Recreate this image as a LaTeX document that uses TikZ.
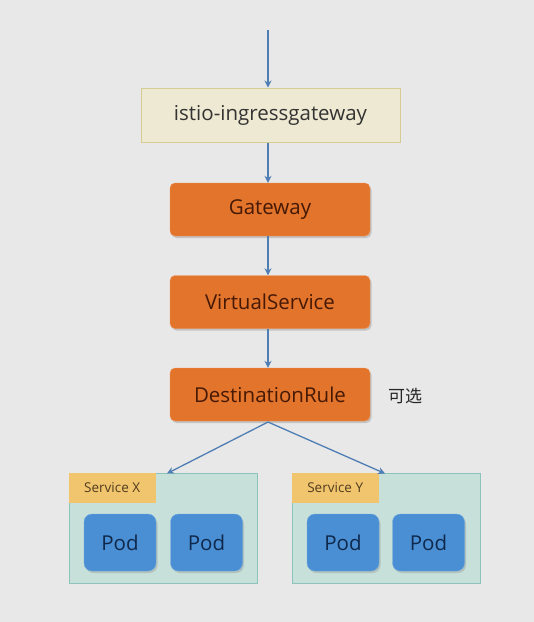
\documentclass[tikz,border=0pt]{standalone}
\usepackage{fontspec}
\setmainfont{Open Sans}
\newfontfamily\cjk{Noto Sans CJK SC}
\usetikzlibrary{arrows.meta,shadows}
\definecolor{bg}{RGB}{232,232,232}
\definecolor{beigefill}{RGB}{238,233,210}
\definecolor{beigeline}{RGB}{214,203,146}
\definecolor{orangefill}{RGB}{226,116,44}
\definecolor{orangeline}{RGB}{240,150,90}
\definecolor{orangetext}{RGB}{70,25,5}
\definecolor{arrowblue}{RGB}{79,126,180}
\definecolor{svcfill}{RGB}{200,224,218}
\definecolor{svcline}{RGB}{140,196,187}
\definecolor{labelfill}{RGB}{241,196,110}
\definecolor{labeltext}{RGB}{80,60,30}
\definecolor{podfill}{RGB}{74,143,212}
\definecolor{podtext}{RGB}{15,40,75}
\tikzset{
  x=1pt,y=-1pt,
  conn/.style={draw=arrowblue,line width=1.3pt,-{Stealth[length=7pt,width=7pt]}},
  flowbox/.style={draw=orangeline,fill=orangefill,rounded corners=5pt,minimum width=200pt,minimum height=53pt,inner sep=0pt,
    text=orangetext,font=\fontsize{20.5}{24}\selectfont,drop shadow={opacity=0.35,shadow xshift=1.5pt,shadow yshift=-2pt}},
  podbox/.style={draw=podfill!80!white,fill=podfill,rounded corners=8pt,minimum width=72pt,minimum height=57pt,inner sep=0pt,
    text=podtext,font=\fontsize{20.5}{24}\selectfont,drop shadow={opacity=0.3,shadow xshift=1.5pt,shadow yshift=-2pt}},
  svcbox/.style={draw=svcline,fill=svcfill,line width=1pt,minimum width=188pt,minimum height=110pt,inner sep=0pt},
  svclabel/.style={fill=labelfill,minimum width=87pt,minimum height=30pt,inner sep=0pt,text=labeltext,font=\fontsize{13.5}{16}\selectfont},
}
\begin{document}
\begin{tikzpicture}
\fill[bg] (0,0) rectangle (534,622);
\useasboundingbox (0,0) rectangle (534,622);
\coordinate (top) at (268,30);
\node[draw=beigeline,fill=beigefill,line width=1pt,minimum width=259pt,minimum height=54pt,inner sep=0pt,
  text=black!80,font=\fontsize{20.5}{24}\selectfont] (ingress) at (270.5,115) {istio-ingressgateway};
\node[flowbox] (gw) at (270,209.5) {Gateway};
\node[flowbox] (vs) at (270,302) {VirtualService};
\node[flowbox] (dr) at (270,394.5) {DestinationRule};
\node[font=\cjk\fontsize{17}{20}\selectfont,text=black!85] (opt) at (405,396) {可选};

\node[svcbox] (sx) at (163,528) {};
\node[svclabel,anchor=north west] (lx) at (sx.north west) {Service X};
\node[podbox] (px1) at (120,542.5) {Pod};
\node[podbox] (px2) at (206.5,542.5) {Pod};

\node[svcbox] (sy) at (386,528) {};
\node[svclabel,anchor=north west] (ly) at (sy.north west) {Service Y};
\node[podbox] (py1) at (343,542.5) {Pod};
\node[podbox] (py2) at (428.5,542.5) {Pod};

\coordinate (drb) at (268,422);
\coordinate (sxt) at (167,473.5);
\coordinate (syt) at (385,473.5);

\draw[conn] (top) -- (ingress.north -| top);
\draw[conn] (ingress.south -| top) -- (gw.north -| top);
\draw[conn] (gw.south -| top) -- (vs.north -| top);
\draw[conn] (vs.south -| top) -- (dr.north -| top);
\draw[conn] (drb) -- (sxt);
\draw[conn] (drb) -- (syt);
\end{tikzpicture}
\end{document}
